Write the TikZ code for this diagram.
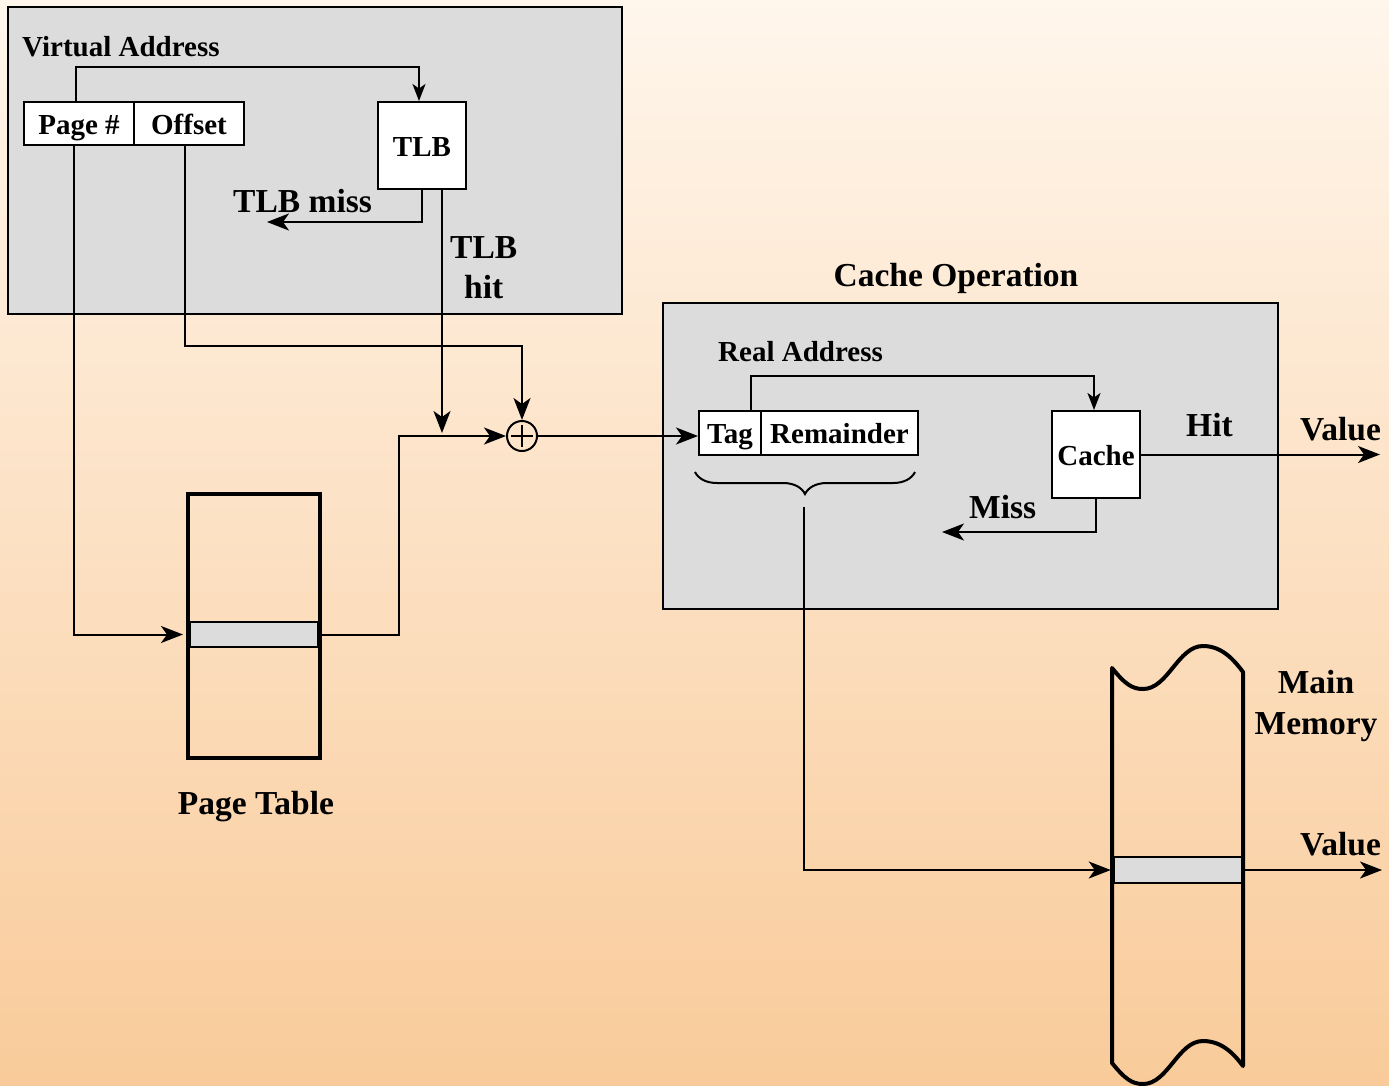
\documentclass[tikz,border=0pt]{standalone}
\usepackage{fontspec}
\setmainfont{Liberation Serif}
\usetikzlibrary{arrows.meta,decorations.pathreplacing,calc}
\definecolor{bgtop}{RGB}{255,246,236}
\definecolor{bgbot}{RGB}{249,203,154}
\definecolor{panel}{RGB}{220,220,220}
\tikzset{
 lbl/.style={font=\fontsize{29}{32}\selectfont\bfseries, inner sep=0pt},
 biglbl/.style={font=\fontsize{33.5}{38}\selectfont\bfseries, inner sep=0pt},
 cell/.style={draw, line width=2pt, fill=white, inner sep=0pt, text height=21pt, text depth=0pt, font=\fontsize{29}{32}\selectfont\bfseries},
 panelbox/.style={draw, line width=2pt, fill=panel, inner sep=0pt},
 rowbox/.style={draw, line width=1.5pt, fill=panel, inner sep=0pt},
 arr/.style={line width=2pt, -{Stealth[length=22pt,width=17pt,inset=6pt]}},
 sarr/.style={line width=2pt, -{Stealth[length=17pt,width=13pt,inset=4.5pt]}},
}
\begin{document}
\begin{tikzpicture}[x=1pt,y=-1pt]
\useasboundingbox (0,0) rectangle (1389,1085);
\shade[top color=bgtop,bottom color=bgbot] (0,0) rectangle (1389,1085);

% Virtual address panel
\node[panelbox,minimum width=614pt,minimum height=307pt] (va) at (315,160.5) {};
\node[lbl,anchor=base west] (valbl) at (22,56) {Virtual Address};
\node[cell,minimum width=110pt,minimum height=43pt] (pg) at (79,123.5) {Page \#};
\node[cell,minimum width=110pt,minimum height=43pt] (off) at (189,123.5) {Offset};
\node[cell,minimum width=88pt,minimum height=87pt] (tlb) at (422,145.5) {TLB};
\node[biglbl,anchor=base west] (tlbmiss) at (233,212) {TLB miss};
\node[biglbl,anchor=base west] (tlbhit1) at (450,258) {TLB};
\node[biglbl,anchor=base west] (tlbhit2) at (464,298) {hit};

% Page table
\node[draw,line width=4pt,minimum width=132pt,minimum height=264pt,inner sep=0pt] (pt) at (254,626) {};
\node[rowbox,minimum width=128pt,minimum height=25pt] (ptrow) at (254,634.5) {};
\node[biglbl,anchor=base] (ptlbl) at (256,814) {Page Table};

% adder
\node[draw,circle,line width=2pt,minimum size=30pt,inner sep=0pt] (plus) at (522,436) {};
\draw[line width=2pt] ($(plus.center)+(-11,0)$) -- ($(plus.center)+(11,0)$);
\draw[line width=2pt] ($(plus.center)+(0,-11)$) -- ($(plus.center)+(0,11)$);

% Cache operation panel
\node[panelbox,minimum width=615pt,minimum height=306pt] (cop) at (970.5,456) {};
\node[biglbl,anchor=base] (coplbl) at (956,286) {Cache Operation};
\node[lbl,anchor=base west] (ralbl) at (718,361) {Real Address};
\node[cell,minimum width=62pt,minimum height=44pt] (tag) at (730,433) {Tag};
\node[cell,minimum width=157pt,minimum height=44pt] (rem) at (839.5,433) {Remainder};
\node[cell,minimum width=88pt,minimum height=87pt] (cache) at (1096,454.5) {Cache};
\node[biglbl,anchor=base west] (hitlbl) at (1186,436) {Hit};
\node[biglbl,anchor=base west] (vallbl) at (1300,440) {Value};
\node[biglbl,anchor=base west] (misslbl) at (969,518) {Miss};

% Main memory
\draw[line width=4pt,line join=round]
  (1112,668) .. controls (1125,684) and (1132,689) .. (1143,689)
  .. controls (1168,689) and (1178,646) .. (1203,646)
  .. controls (1222,646) and (1234,660) .. (1243,672)
  -- (1243,1066)
  .. controls (1234,1054) and (1222,1041) .. (1203,1041)
  .. controls (1178,1041) and (1168,1084) .. (1143,1084)
  .. controls (1132,1084) and (1125,1079) .. (1112,1063) -- cycle;
\node[rowbox,minimum width=127pt,minimum height=26pt] (mrow) at (1178,870) {};
\node[biglbl,anchor=base] (mainlbl) at (1316,693) {Main};
\node[biglbl,anchor=base] (memlbl) at (1316,734) {Memory};
\node[biglbl,anchor=base west] (val2lbl) at (1300,855) {Value};

% connectors
\coordinate (vaturn) at (0,67);
\coordinate (pgout) at ($(pg.north)+(-3,0)$);
\coordinate (tlbin) at ($(tlb.north)+(-3,0)$);
\draw[sarr] (pgout) |- (tlbin |- vaturn) -- (tlbin);

\coordinate (missend) at (267,222);
\draw[arr] (tlb.south) |- (missend);

\coordinate (hitout) at ($(tlb.south)+(20,0)$);
\coordinate (hitend) at (442,433);
\draw[arr] (hitout) -- (hitend);

\coordinate (offout) at ($(off.south)+(-4,0)$);
\coordinate (offturn) at (0,346);
\draw[arr] (offout) |- (plus.north |- offturn) -- (plus.north);

\coordinate (pgdown) at ($(pg.south)+(-5,0)$);
\draw[arr,shorten >=3pt] (pgdown) |- (pt.west |- ptrow);

\draw[arr] (pt.east |- ptrow) -- ++(77,0) |- (plus.west);
\draw[arr] (plus.east) -- (tag.west |- plus.east);

\coordinate (raturn) at (0,376);
\coordinate (tagout) at ($(tag.north)+(21,0)$);
\coordinate (cachein) at ($(cache.north)+(-2,0)$);
\draw[sarr] (tagout) |- (cachein |- raturn) -- (cachein);

\coordinate (valend) at (1380,454.5);
\draw[arr] (cache.east) -- (valend);

\coordinate (missend2) at (942,532);
\draw[arr] (cache.south) |- (missend2);

\draw[line width=2pt,decorate,decoration={brace,mirror,amplitude=22pt}] (695,472) -- (915,472);

\coordinate (memstart) at (804,507);
\draw[arr,shorten >=3pt] (memstart) |- (mrow.west);

\coordinate (val2end) at (1382,870);
\draw[arr] (mrow.east) -- (val2end);
\end{tikzpicture}
\end{document}
